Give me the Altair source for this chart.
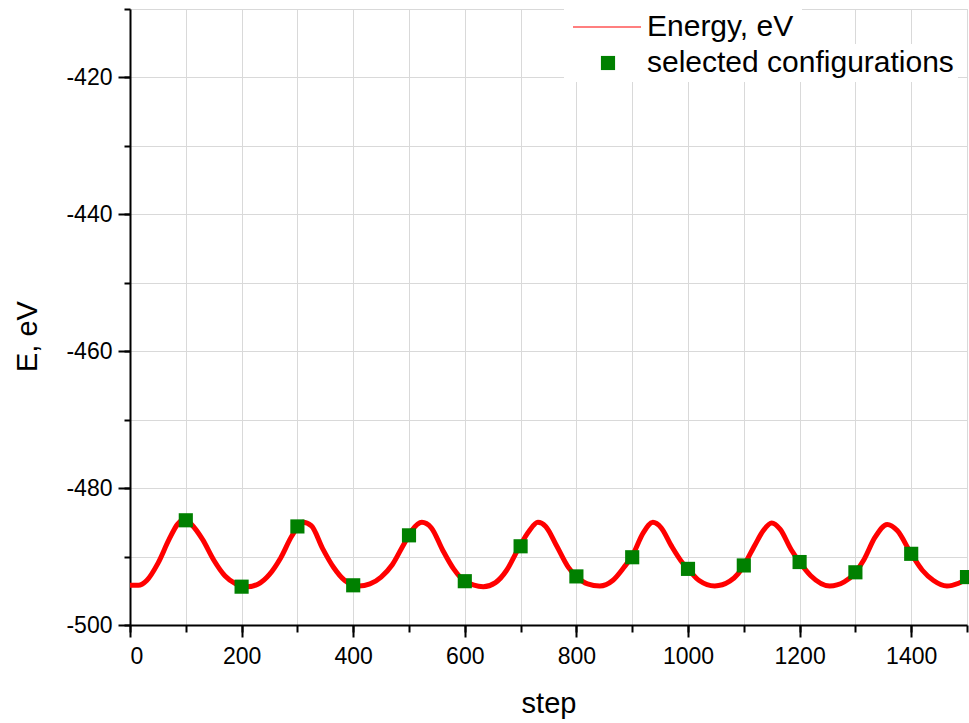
import altair as alt
import pandas as pd

steps = [0, 15, 30, 50, 70, 85, 97, 110, 130, 150, 170, 190, 210, 230, 250, 270, 290, 310, 325, 345,
         365, 385, 410, 430, 450, 470, 490, 505, 523, 540, 560, 580, 600, 633, 655, 675, 695, 715, 731, 745,
         765, 785, 800, 820, 842, 865, 885, 900, 920, 937, 952, 970, 990, 1000, 1020, 1048, 1075, 1090, 1100, 1120,
         1135, 1150, 1165, 1185, 1200, 1220, 1254, 1280, 1300, 1315, 1335, 1357, 1375, 1400, 1420, 1440, 1464, 1485, 1500]
energy = [-494.2, -494.2, -493.5, -491.0, -487.5, -485.3, -484.5, -485.3, -487.5, -490.5, -492.8, -494.0, -494.4, -494.0, -492.6, -490.2, -487.0, -485.0, -485.5, -488.8,
          -491.6, -493.5, -494.3, -494.0, -493.0, -491.2, -488.3, -486.2, -485.0, -485.8, -489.0, -491.8, -493.6, -494.4, -493.8, -492.0, -489.0, -486.3, -485.0, -485.6,
          -488.5, -491.5, -492.9, -494.0, -494.3, -493.5, -491.6, -489.9, -486.5, -485.0, -485.8, -488.4, -490.9, -491.8, -493.5, -494.3, -493.6, -492.5, -491.3, -488.3,
          -486.2, -485.1, -486.0, -489.0, -490.8, -492.8, -494.3, -493.7, -492.3, -490.5, -487.2, -485.3, -486.2, -489.6, -492.0, -493.5, -494.3, -493.9, -493.3]

sel_steps = [100, 200, 300, 400, 500, 600, 700, 800, 900, 1000, 1100, 1200, 1300, 1400, 1500]
sel_energy = [-484.7, -494.4, -485.6, -494.2, -486.9, -493.6, -488.5, -492.9, -490.1, -491.8, -491.3, -490.8, -492.3, -489.6, -493.0]

series_names = ["Energy, eV", "selected configurations"]
x_major = [0, 200, 400, 600, 800, 1000, 1200, 1400]
x_minor = list(range(0, 1501, 100))
y_major = [-500, -480, -460, -440, -420]
y_minor = list(range(-500, -409, 10))

FONT = "Liberation Sans"
PAD_SPACES = "\u00a0" * 30

line_df = pd.DataFrame({"step": steps, "E": energy, "series": series_names[0]})
pt_df = pd.DataFrame({"step": sel_steps, "E": sel_energy, "series": series_names[1]})

xscale = alt.Scale(domain=[0, 1500], nice=False, zero=False)
yscale = alt.Scale(domain=[-500, -410], nice=False, zero=False)

line_legend = alt.Legend(
    title=None, orient="none", legendX=434, legendY=-25,
    fillColor="white", padding=8, labelFont=FONT, labelFontSize=30, labelColor="black",
    labelOffset=5, symbolType="stroke", symbolSize=4624, symbolStrokeWidth=1.2,
    symbolStrokeColor="#ff0000", labelLimit=1000, zindex=0,
    labelExpr=f"datum.label + '{PAD_SPACES}'",
)
pt_legend = alt.Legend(
    title=None, orient="none", legendX=434, legendY=35,
    fillColor="white", padding=4, labelFont=FONT, labelFontSize=30, labelColor="black",
    labelOffset=24, symbolType="square", symbolSize=200, symbolOffset=25, labelLimit=1000,
    symbolStrokeWidth=0, zindex=1,
    labelExpr=f"datum.label + '{PAD_SPACES}'",
)

x_minor_axis = alt.Axis(values=x_minor, labels=False, tickSize=7, tickWidth=2, tickColor="black",
                        domain=False, grid=True, gridColor="#d9d9d9", gridWidth=1, title=None, orient="bottom")
y_minor_axis = alt.Axis(values=y_minor, labels=False, tickSize=6, tickWidth=2, tickColor="black",
                        domain=False, grid=True, gridColor="#d9d9d9", gridWidth=1, title=None, orient="left")
x_major_axis = alt.Axis(values=x_major, tickSize=12, tickWidth=2, tickColor="black", domain=True,
                        domainColor="black", domainWidth=2, grid=False, title="step", orient="bottom",
                        labelExpr="'' + datum.value",
                        labelFont=FONT, labelFontSize=23, labelColor="black", labelPadding=8,
                        titleFont=FONT, titleFontSize=29, titleFontWeight="normal", titleColor="black",
                        titlePadding=21)
y_major_axis = alt.Axis(values=y_major, tickSize=12, tickWidth=2, tickColor="black", domain=True,
                        domainColor="black", domainWidth=2, grid=False, title="E, eV", orient="left",
                        labelExpr="'' + datum.value",
                        labelFont=FONT, labelFontSize=23, labelColor="black", labelPadding=6,
                        titleFont=FONT, titleFontSize=29, titleFontWeight="normal", titleColor="black",
                        titleY=327, titlePadding=23)

grid_layer = alt.Chart(pt_df).mark_point(opacity=0).encode(
    x=alt.X("step:Q", scale=xscale, axis=x_minor_axis),
    y=alt.Y("E:Q", scale=yscale, axis=y_minor_axis),
)

line = alt.Chart(line_df).mark_line(strokeWidth=5, interpolate="monotone").encode(
    x=alt.X("step:Q", scale=xscale, axis=x_major_axis),
    y=alt.Y("E:Q", scale=yscale, axis=y_major_axis),
    stroke=alt.Stroke("series:N", scale=alt.Scale(domain=[series_names[0]], range=["#ff0000"]), legend=line_legend),
)

pts = alt.Chart(pt_df).mark_square(size=200, opacity=1, strokeWidth=0).encode(
    x=alt.X("step:Q", scale=xscale, axis=None),
    y=alt.Y("E:Q", scale=yscale, axis=None),
    fill=alt.Fill("series:N", scale=alt.Scale(domain=[series_names[1]], range=["#008000"]), legend=pt_legend),
)

chart = alt.layer(grid_layer, line, pts).resolve_axis(x="independent", y="independent").properties(
    width=837, height=616,
    padding={"left": 130, "top": 9, "right": 2, "bottom": 98},
    autosize=alt.AutoSizeParams(type="none"),
).configure_view(stroke=None).configure(background="white")

chart.save("out.html", embed_options={"renderer": "svg", "actions": False})
